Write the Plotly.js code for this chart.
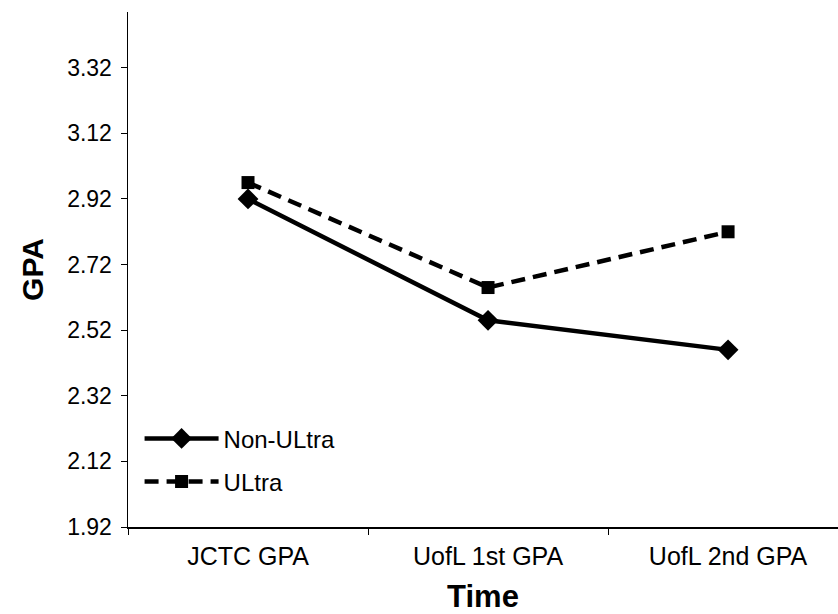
<!DOCTYPE html>
<html>
<head>
<meta charset="utf-8">
<script src="https://cdn.plot.ly/plotly-3.0.1.min.js"></script>
<style>html,body{margin:0;padding:0;background:#fff;}#chart{width:838px;height:614px;}</style>
</head>
<body>
<div id="chart"></div>
<script>
const categories = ["JCTC GPA", "UofL 1st GPA", "UofL 2nd GPA"];
const nonUltra = [2.92, 2.55, 2.46];
const ultra = [2.97, 2.65, 2.82];
const yTicks = [1.92, 2.12, 2.32, 2.52, 2.72, 2.92, 3.12, 3.32];
const yTickText = ["1.92", "2.12", "2.32", "2.52", "2.72", "2.92", "3.12", "3.32"];

const font = "Liberation Sans, Arial, sans-serif";

const traces = [
  {
    x: categories, y: nonUltra, name: "Non-ULtra", type: "scatter", mode: "lines+markers",
    legendgroup: "a",
    line: {color: "#000", width: 4.5, dash: "solid"},
    marker: {symbol: "diamond", size: 16, color: "#000"}
  },
  {
    x: categories, y: ultra, name: "ULtra", type: "scatter", mode: "lines+markers",
    legendgroup: "b",
    line: {color: "#000", width: 4.5, dash: "14px,8px"},
    marker: {symbol: "square", size: 13, color: "#000"}
  }
];

const layout = {
  width: 838, height: 614,
  margin: {l: 128, r: 0, t: 12, b: 87},
  paper_bgcolor: "#fff", plot_bgcolor: "#fff",
  font: {family: font, color: "#000", size: 24},
  showlegend: true,
  legend: {x: 0.0163, y: 0.215, xanchor: "left", yanchor: "top", bgcolor: "rgba(0,0,0,0)",
           itemwidth: 74, traceorder: "grouped", tracegroupgap: 9,
           font: {family: font, size: 24, color: "#000"}},
  xaxis: {
    type: "category", range: [-0.5, 2.458],
    showline: true, linecolor: "#000", linewidth: 1.5,
    ticks: "outside", ticklen: 6, tickcolor: "#000", tickson: "boundaries",
    showgrid: false, zeroline: false, ticklabelstandoff: 6,
    tickfont: {family: font, size: 25, color: "#000"},
    title: {text: "<b>Time</b>", font: {family: font, size: 31, color: "#000"}, standoff: 20}
  },
  yaxis: {
    range: [1.92, 3.49],
    tickvals: yTicks, ticktext: yTickText,
    showline: true, linecolor: "#000", linewidth: 1.5,
    ticks: "outside", ticklen: 6, tickcolor: "#000",
    showgrid: false, zeroline: false, ticklabelstandoff: 4,
    tickfont: {family: font, size: 23, color: "#000"},
    title: {text: "<b>GPA</b>", font: {family: font, size: 30, color: "#000"}, standoff: 14}
  }
};

Plotly.newPlot("chart", traces, layout, {staticPlot: true, displayModeBar: false});
</script>
</body>
</html>
